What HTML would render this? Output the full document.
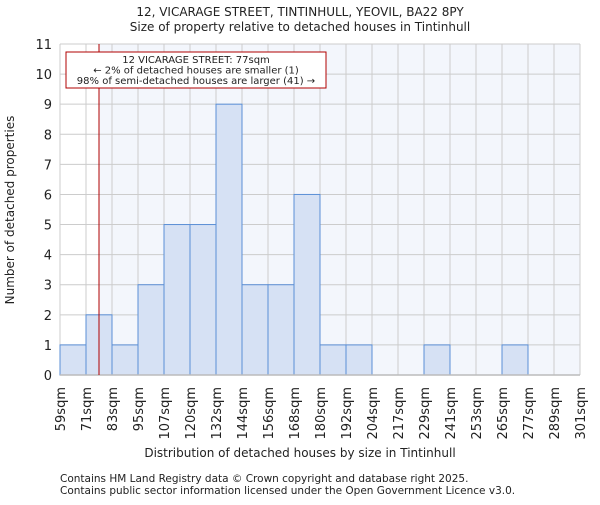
<!DOCTYPE html>
<html><head><meta charset="utf-8"><style>
body{margin:0;background:#fff;}
svg text{font-family:"DejaVu Sans","Liberation Sans",sans-serif;fill:#222;}
</style></head><body>
<svg id="c" width="600" height="500" xmlns="http://www.w3.org/2000/svg">
<text x="300" y="16" text-anchor="middle" font-size="12">12, VICARAGE STREET, TINTINHULL, YEOVIL, BA22 8PY</text>
<text x="300" y="31" text-anchor="middle" font-size="12">Size of property relative to detached houses in Tintinhull</text>
<text x="300" y="457" text-anchor="middle" font-size="12">Distribution of detached houses by size in Tintinhull</text>
<text transform="translate(14,210) rotate(-90)" text-anchor="middle" font-size="12">Number of detached properties</text>
<text x="60" y="482" font-size="10.5">Contains HM Land Registry data © Crown copyright and database right 2025.</text>
<text x="60" y="494" font-size="10.5">Contains public sector information licensed under the Open Government Licence v3.0.</text>
</svg>
<script>
const categories=["59sqm","71sqm","83sqm","95sqm","107sqm","120sqm","132sqm","144sqm","156sqm","168sqm","180sqm","192sqm","204sqm","217sqm","229sqm","241sqm","253sqm","265sqm","277sqm","289sqm","301sqm"];
const counts=[1,2,1,3,5,5,9,3,3,6,1,1,0,0,1,0,0,1,0,0];
const yTicks=[0,1,2,3,4,5,6,7,8,9,10,11];
const binStarts=[59,71,83,95,107,120,132,144,156,168,180,192,204,217,229,241,253,265,277,289,301];
const subjectSize=77;
const L=60,R=580,T=44,B=375,yMax=11;
const svg=document.getElementById('c');
const NS='http://www.w3.org/2000/svg';
const bw=(R-L)/counts.length;
const xi=i=>L+i*bw;
const y=v=>B-(v/yMax)*(B-T);
function xv(v){for(let i=0;i<binStarts.length-1;i++){if(v<=binStarts[i+1])return xi(i)+(v-binStarts[i])/(binStarts[i+1]-binStarts[i])*bw;}return R;}
function mk(t,a){const e=document.createElementNS(NS,t);for(const k in a)e.setAttribute(k,a[k]);svg.appendChild(e);return e;}
const sx=xv(subjectSize);
let e=mk('rect',{x:L,y:T,width:sx-L,height:B-T,fill:'#ffffff'});


e=mk('rect',{x:sx,y:T,width:R-sx,height:B-T,fill:'#f3f6fc'});


yTicks.forEach(t=>{
 const g=mk('line',{x1:L,x2:R,y1:y(t),y2:y(t),stroke:'#cccccc','stroke-width':1});
 
 
 const tx=mk('text',{x:L-8,y:y(t)+5,'text-anchor':'end','font-size':13});
 tx.textContent=t;
 
 
});
categories.forEach((c,i)=>{
 const g=mk('line',{x1:xi(i),x2:xi(i),y1:T,y2:B,stroke:'#cccccc','stroke-width':1});
 
 
 const tx=mk('text',{transform:`translate(${xi(i)+5},387) rotate(-90)`,'text-anchor':'end','font-size':13});
 tx.textContent=c;
 
 
});
counts.forEach((v,i)=>{
 if(v<=0)return;
 const r=mk('rect',{x:xi(i),y:y(v),width:bw,height:B-y(v),fill:'#d6e1f4',stroke:'#5b8fd6','stroke-width':1});
 
 
});
e=mk('line',{x1:L,x2:R,y1:B,y2:B,stroke:'#bbbbbb','stroke-width':1.5});


e=mk('line',{x1:sx,x2:sx,y1:T,y2:B,stroke:'#b00000','stroke-width':1});


e=mk('rect',{x:66,y:52,width:260,height:36,fill:'#fff',stroke:'#b00000','stroke-width':1});


["12 VICARAGE STREET: 77sqm","← 2% of detached houses are smaller (1)","98% of semi-detached houses are larger (41) →"].forEach((s,i)=>{
 const t=mk('text',{x:196,y:63+i*10.5,'text-anchor':'middle','font-size':10});
 t.textContent=s;
 
 
});
</script>
</body></html>
